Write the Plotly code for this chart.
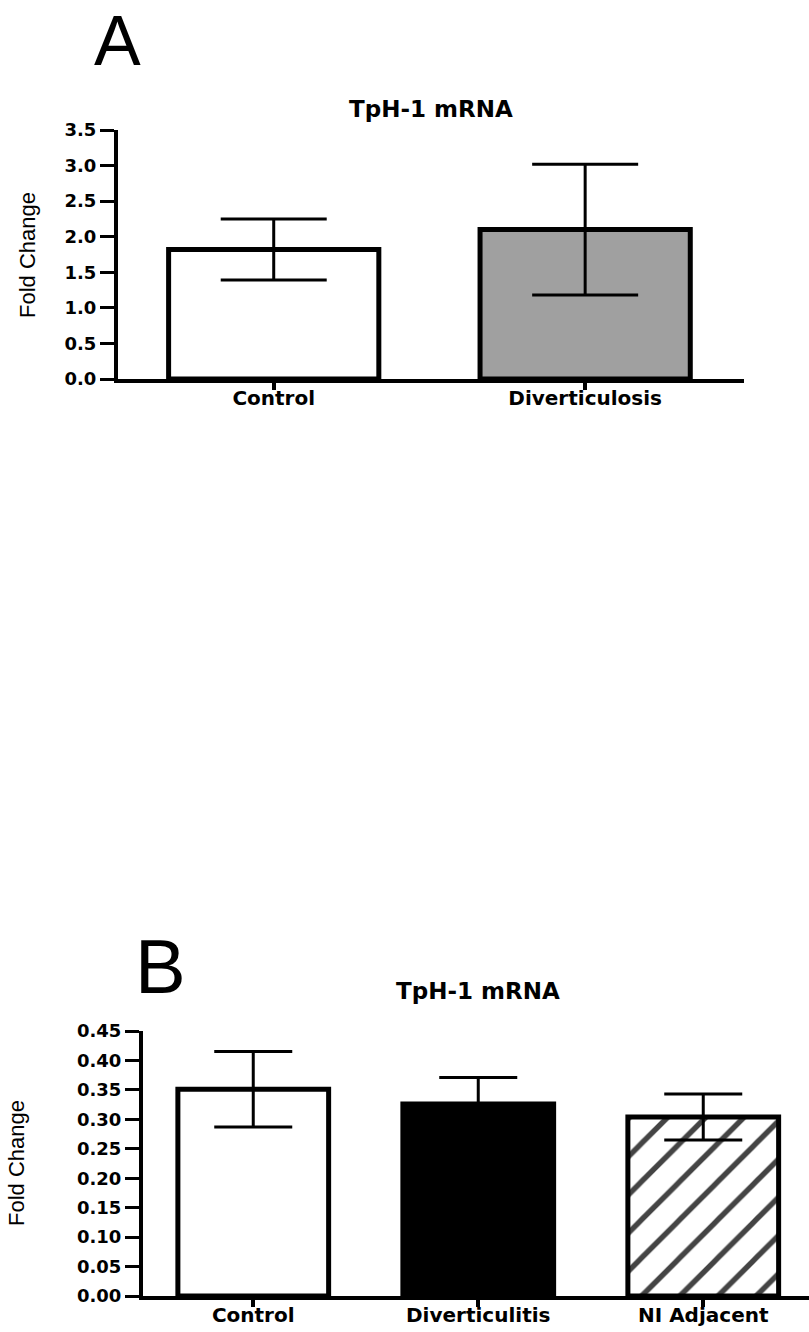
import plotly.graph_objects as go

# ---- Data ----
cats_a = ["Control", "Diverticulosis"]
vals_a = [1.82, 2.10]
err_a = [0.43, 0.92]

cats_b = ["Control", "Diverticulitis", "NI Adjacent"]
vals_b = [0.351, 0.326, 0.304]
err_b = [0.064, 0.045, 0.039]

yticks_a = [0.0, 0.5, 1.0, 1.5, 2.0, 2.5, 3.0, 3.5]
yticks_b = [0.00, 0.05, 0.10, 0.15, 0.20, 0.25, 0.30, 0.35, 0.40, 0.45]

W, H = 809, 1332
def px_x(x): return x / W
def px_y(y): return 1 - y / H

TICKFONT = dict(family="DejaVu Sans", size=18, color="black", weight="bold")
CATFONT = dict(family="DejaVu Sans", size=20, color="black", weight="bold")

fig = go.Figure()

fig.add_trace(go.Bar(
    x=cats_a, y=vals_a, width=0.675,
    marker=dict(color=["white", "#a0a0a0"], line=dict(color="black", width=5)),
    error_y=dict(type="data", array=err_a, visible=True, color="black", thickness=3, width=53),
    xaxis="x", yaxis="y", showlegend=False,
))

fig.add_trace(go.Bar(
    x=cats_b, y=vals_b, width=0.67,
    marker=dict(
        color=["white", "black", "white"],
        line=dict(color="black", width=5),
        pattern=dict(shape=["", "", "/"], fgcolor="black", bgcolor="white",
                     fgopacity=1, size=27, solidity=0.2),
    ),
    error_y=dict(type="data", array=err_b, visible=True, color="black", thickness=3, width=39),
    xaxis="x2", yaxis="y2", showlegend=False,
))

common_x = dict(showline=True, linecolor="black", linewidth=4, ticks="outside",
                ticklen=7, tickwidth=4, tickcolor="black", tickfont=CATFONT,
                ticklabelstandoff=-9,
                showgrid=False, zeroline=False, fixedrange=True, automargin=False)
common_y = dict(showline=True, linecolor="black", linewidth=4, ticks="outside",
                ticklen=14, tickwidth=3, tickcolor="black", tickfont=TICKFONT,
                showgrid=False, zeroline=False, fixedrange=True, automargin=False)

fig.update_layout(
    width=W, height=H, autosize=False,
    margin=dict(l=0, r=0, t=0, b=0, pad=0, autoexpand=False),
    paper_bgcolor="white", plot_bgcolor="white",
    bargap=0.3,
    xaxis=dict(domain=[px_x(118), px_x(744)], range=[-0.5, 1.51], anchor="y", **common_x),
    yaxis=dict(domain=[px_y(379), px_y(130)], range=[0, 3.5], anchor="x",
               tickvals=yticks_a, ticktext=[f"{v:.1f}" for v in yticks_a], **common_y),
    xaxis2=dict(domain=[px_x(143), 1.0], range=[-0.49, 2.47], anchor="y2", **common_x),
    yaxis2=dict(domain=[px_y(1296), px_y(1031)], range=[0, 0.45], anchor="x2",
                tickvals=yticks_b, ticktext=[f"{v:.2f}" for v in yticks_b], **common_y),
)

ann = []
ann.append(dict(text="A", x=px_x(117), y=1.0, xref="paper", yref="paper",
                showarrow=False, xanchor="center", yanchor="top",
                font=dict(family="Liberation Sans", size=70, color="black")))
ann.append(dict(text="B", x=px_x(160), y=px_y(966), xref="paper", yref="paper",
                showarrow=False, xanchor="center", yanchor="middle",
                font=dict(family="Liberation Sans", size=76, color="black")))
ann.append(dict(text="TpH-1 mRNA", x=px_x(431), y=px_y(109), xref="paper", yref="paper",
                showarrow=False, xanchor="center", yanchor="middle",
                font=dict(family="DejaVu Sans", size=23, color="black", weight="bold")))
ann.append(dict(text="TpH-1 mRNA", x=px_x(478), y=px_y(991), xref="paper", yref="paper",
                showarrow=False, xanchor="center", yanchor="middle",
                font=dict(family="DejaVu Sans", size=23, color="black", weight="bold")))
ann.append(dict(text="Fold Change", x=px_x(28), y=px_y(255), xref="paper", yref="paper",
                showarrow=False, xanchor="center", yanchor="middle", textangle=-90,
                font=dict(family="Liberation Sans", size=22, color="black")))
ann.append(dict(text="Fold Change", x=px_x(16), y=px_y(1163), xref="paper", yref="paper",
                showarrow=False, xanchor="center", yanchor="middle", textangle=-90,
                font=dict(family="Liberation Sans", size=22, color="black")))
fig.update_layout(annotations=ann)

fig.write_html(
    "out.html",
    config={"displayModeBar": False, "staticPlot": True},
    post_script=(
        "document.body.style.margin='0';document.body.style.padding='0';"
        "document.documentElement.style.overflow='hidden';"
        "var gd=document.getElementsByClassName('plotly-graph-div')[0];"
        "gd.style.position='absolute';gd.style.top='0px';gd.style.left='0px';"
    ),
)
